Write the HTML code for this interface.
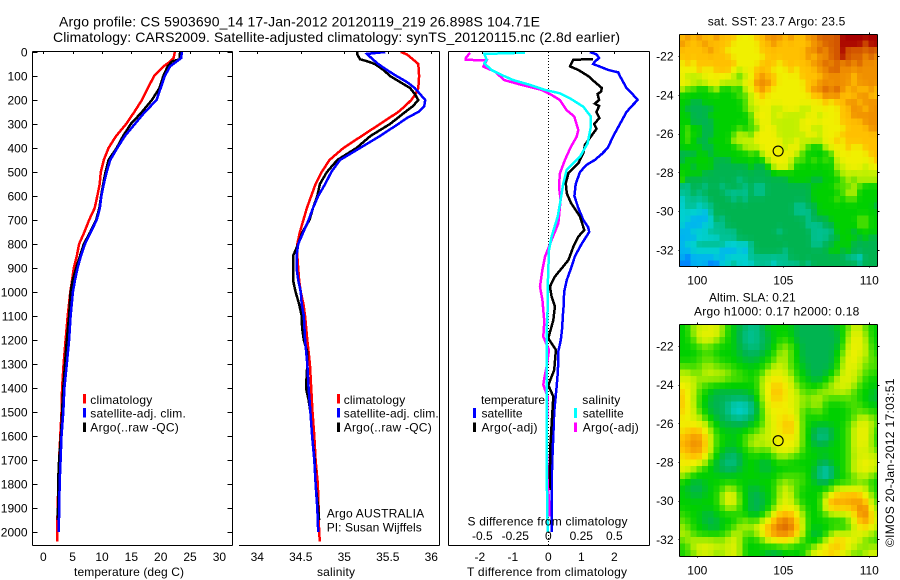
<!DOCTYPE html>
<html lang="en">
<head>
<meta charset="utf-8">
<title>Argo profile chart</title>
<style>
html,body{margin:0;padding:0;background:#fff;}
svg{display:block;}
text{font-family:"Liberation Sans",sans-serif;font-size:12px;fill:#000;}
.t14{font-size:14px;}
.frame{stroke:#000;stroke-width:1;fill:none;shape-rendering:crispEdges;}
.prof{fill:none;stroke-width:2.5;stroke-linejoin:miter;shape-rendering:crispEdges;}
</style>
</head>
<body>
<svg id="chart" xmlns="http://www.w3.org/2000/svg" width="900" height="580" viewBox="0 0 900 580">
  <rect x="0" y="0" width="900" height="580" fill="#fff"/>
  <text class="t14" x="59" y="26.5" textLength="481" lengthAdjust="spacing">Argo profile: CS 5903690_14 17-Jan-2012 20120119_219 26.898S 104.71E</text>
  <text class="t14" x="53" y="42" textLength="567" lengthAdjust="spacing">Climatology: CARS2009. Satellite-adjusted climatology: synTS_20120115.nc (2.8d earlier)</text>

  <g id="map-layer"></g>
  <g id="series-layer"></g>
  <g id="axis-layer"></g>

  <text x="74" y="576" textLength="110" lengthAdjust="spacing">temperature (deg C)</text>
  <text x="317" y="576" textLength="38" lengthAdjust="spacing">salinity</text>
  <text x="467" y="576" textLength="160" lengthAdjust="spacing">T difference from climatology</text>
  <text x="467.5" y="525.7" textLength="160" lengthAdjust="spacing">S difference from climatology</text>

  <g>
    <rect x="83" y="394" width="3" height="9.5" fill="#f00"/>
    <rect x="83" y="408" width="3" height="9.5" fill="#00f"/>
    <rect x="83" y="422.5" width="3" height="9.5" fill="#000"/>
    <text x="90.3" y="404" textLength="62" lengthAdjust="spacing">climatology</text>
    <text x="90.3" y="417.5" textLength="95.5" lengthAdjust="spacing">satellite-adj. clim.</text>
    <text x="90.3" y="431.5" textLength="88.5" lengthAdjust="spacing">Argo(..raw -QC)</text>
  </g>
  <g>
    <rect x="337" y="394" width="3" height="9.5" fill="#f00"/>
    <rect x="337" y="408" width="3" height="9.5" fill="#00f"/>
    <rect x="337" y="422.5" width="3" height="9.5" fill="#000"/>
    <text x="343.7" y="404" textLength="61.5" lengthAdjust="spacing">climatology</text>
    <text x="343.7" y="417.5" textLength="95" lengthAdjust="spacing">satellite-adj. clim.</text>
    <text x="343.7" y="431.5" textLength="88" lengthAdjust="spacing">Argo(..raw -QC)</text>
    <text x="326.7" y="517.3" textLength="97.5" lengthAdjust="spacing">Argo AUSTRALIA</text>
    <text x="326.7" y="531.7" textLength="95" lengthAdjust="spacing">PI: Susan Wijffels</text>
  </g>
  <g>
    <text x="481" y="404" textLength="64" lengthAdjust="spacing">temperature</text>
    <rect x="473" y="408" width="3" height="10" fill="#00f"/>
    <rect x="473" y="422.5" width="3" height="9.5" fill="#000"/>
    <text x="481.5" y="417.5" textLength="41" lengthAdjust="spacing">satellite</text>
    <text x="481.5" y="431.5" textLength="56" lengthAdjust="spacing">Argo(-adj)</text>
    <text x="582.3" y="404" textLength="38" lengthAdjust="spacing">salinity</text>
    <rect x="574" y="408" width="3" height="10" fill="#0ff"/>
    <rect x="574" y="422.5" width="3" height="9.5" fill="#f0f"/>
    <text x="582.7" y="417.5" textLength="41" lengthAdjust="spacing">satellite</text>
    <text x="582.7" y="431.5" textLength="56" lengthAdjust="spacing">Argo(-adj)</text>
  </g>

  <text x="707.7" y="25.3" textLength="137.6" lengthAdjust="spacing">sat. SST: 23.7 Argo: 23.5</text>
  <text x="709" y="301.7" textLength="86.7" lengthAdjust="spacing">Altim. SLA: 0.21</text>
  <text x="694" y="315.7" textLength="165.3" lengthAdjust="spacing">Argo h1000: 0.17 h2000: 0.18</text>
  <text transform="translate(894 547) rotate(-90)" x="0" y="0" textLength="168.5" lengthAdjust="spacing">©IMOS 20-Jan-2012 17:03:51</text>
</svg>

<script>
// ---- axis ticks ----
const depthTicks = [0,100,200,300,400,500,600,700,800,900,1000,1100,1200,1300,1400,1500,1600,1700,1800,1900,2000];
const tempTicks = [0,5,10,15,20,25,30];
const salTicks = [34,34.5,35,35.5,36];
const diffTTicks = [-2,-1,0,1,2];
const diffSTicks = [-0.5,-0.25,0,0.25,0.5];
const lonTicks = [100,105,110];
const latTicks = [22,24,26,28,30,32];

// ---- temperature panel ----
const tempClimDepth = [0,25,40,60,100,150,200,250,300,350,400,450,500,550,600,650,700,750,800,850,900,950,1000,1100,1200,1300,1400,1500,1600,1700,1800,1900,2000,2040];
const tempClimValues = [22.4,22.2,21.6,20.5,18.9,17.8,16.8,15.5,14.1,12.4,11.1,10.3,9.8,9.6,9.2,8.75,7.8,7.0,6.1,5.7,5.2,4.9,4.6,4.15,3.8,3.45,3.2,3.1,2.9,2.7,2.55,2.45,2.35,2.35];
const tempSatDepth = [0,25,40,60,100,150,200,250,300,350,400,450,500,550,600,650,700,750,800,850,900,950,1000,1100,1200,1300,1400,1500,1600,1700,1800,1900,2000];
const tempSatValues = [23.6,23.5,22.7,21.6,20.7,20,19.3,17.3,15.6,13.9,12.6,11.4,10.8,10.3,9.9,9.65,9.1,8.1,7.1,6.4,5.85,5.4,5.05,4.65,4.4,4.0,3.6,3.4,3.1,2.95,2.78,2.72,2.6];
const tempArgoDepth = [0,30,40,60,100,150,200,250,300,350,400,450,500,550,600,650,700,750,800,850,900,950,1000,1100,1200,1300,1400,1500,1600,1700,1800,1900,1950];
const tempArgoValues = [23.3,23.2,21.9,21.2,20.45,19.8,18.5,16.8,14.9,13.6,12.5,11.1,10.6,10.2,9.85,9.55,9.0,8,6.9,6.25,5.6,5,4.65,4.4,4,3.7,3.4,3.2,3,2.7,2.5,2.5,2.45];

// ---- salinity panel ----
const salClimDepth = [0,10,25,50,100,150,175,200,225,250,300,350,400,450,500,550,600,650,700,750,800,850,900,950,1000,1050,1100,1200,1300,1400,1500,1600,1700,1800,1900,2000,2040];
const salClimValues = [35.65,35.72,35.77,35.85,35.86,35.85,35.82,35.77,35.7,35.62,35.41,35.2,34.99,34.83,34.74,34.67,34.62,34.57,34.53,34.49,34.46,34.46,34.47,34.48,34.5,34.53,34.55,34.575,34.605,34.62,34.635,34.655,34.67,34.695,34.705,34.71,34.72];
const salSatDepth = [0,8,25,50,75,100,125,150,175,200,225,250,275,300,350,400,450,500,550,600,650,700,750,800,850,900,950,1000,1050,1100,1200,1300,1400,1500,1600,1700,1800,1900,2000];
const salSatValues = [35.47,35.26,35.31,35.39,35.49,35.6,35.72,35.81,35.87,35.93,35.92,35.85,35.72,35.62,35.41,35.18,34.95,34.85,34.78,34.7,34.64,34.59,34.53,34.47,34.45,34.45,34.47,34.5,34.51,34.535,34.55,34.575,34.59,34.61,34.63,34.655,34.67,34.69,34.7];
const salArgoDepth = [0,10,30,40,50,75,100,125,150,175,200,225,250,300,350,400,450,500,550,600,650,700,750,800,850,900,950,1000,1050,1100,1150,1200,1250,1300,1400,1450,1500,1600,1700,1800,1900,1950];
const salArgoValues = [35.15,35.15,35.18,35.275,35.35,35.45,35.525,35.64,35.755,35.81,35.85,35.79,35.7,35.525,35.3,35.14,34.92,34.8,34.72,34.69,34.64,34.6,34.52,34.47,34.41,34.41,34.41,34.44,34.48,34.51,34.515,34.535,34.575,34.575,34.56,34.59,34.61,34.63,34.66,34.67,34.7,34.71];

// ---- difference panel ----
const diffTSatDepth = [0,10,25,40,50,75,85,100,125,150,175,200,225,250,300,350,400,425,450,470,500,550,600,650,700,730,750,800,850,900,950,1000,1050,1100,1150,1200,1250,1300,1350,1400,1500,1600,1700,1800,1900,2000];
const diffTSatValues = [1.26,1.46,1.54,1.41,1.36,1.82,2.12,2.17,2.27,2.37,2.55,2.71,2.53,2.37,2.17,1.97,1.8,1.62,1.41,1.16,0.96,0.83,0.79,0.91,1.06,1.21,1.24,1.01,0.81,0.69,0.56,0.48,0.47,0.44,0.42,0.38,0.3,0.3,0.28,0.25,0.18,0.15,0.12,0.1,0.1,0.1];
const diffTArgoDepth = [30,32,50,60,75,100,125,150,165,175,200,215,225,250,275,300,320,387,422,464,505,547,589,630,686,742,769,811,867,894,936,978,1019,1061,1117,1193,1241,1325,1353,1388,1436,1506,1644,1825];
const diffTArgoValues = [1.36,0.76,0.69,0.66,0.91,1.21,1.41,1.62,1.6,1.49,1.54,1.41,1.54,1.46,1.55,1.39,1.46,1.11,1.06,0.91,0.61,0.53,0.56,0.69,0.96,1.09,0.91,0.76,0.61,0.45,0.2,0.05,0.1,0.2,0.15,0,0.23,0.18,0.1,0,0.15,0.12,0.06,0.04];
const diffSSatDepth = [3,8,33,47,75,96,117,137,158,172,193,228,269,311,381,436,492,547,617,686,769,825,908,992,1075,1172,1311,1450,1728,1978,1999];
const diffSSatValues = [-0.177,-0.485,-0.467,-0.485,-0.43,-0.354,-0.265,-0.139,-0.025,0.088,0.164,0.265,0.323,0.323,0.298,0.24,0.139,0.114,0.093,0.071,0.025,0.005,0,-0.005,-0.005,-0.013,-0.013,-0.013,-0.013,-0.005,-0.005];
const diffSArgoDepth = [3,26,33,34,61,82,117,137,158,179,200,242,269,325,353,394,450,506,561,617,714,783,853,908,978,1033,1075,1123,1186,1242,1311,1359,1387,1436,1589,1797,1867,1936];
const diffSArgoValues = [-0.593,-0.626,-0.626,-0.467,-0.492,-0.404,-0.333,-0.202,-0.05,0.025,0.088,0.139,0.197,0.227,0.215,0.172,0.126,0.088,0.081,0.093,0.076,0.025,-0.025,-0.045,-0.063,-0.045,-0.038,-0.03,-0.038,0.005,-0.013,-0.03,-0.038,-0.005,-0.013,-0.005,0.005,0.008];

// ---- float position ----
const argoLon = [104.7];
const argoLat = [26.9];

// ---- map colour levels (0 coldest/lowest .. 12 warmest/highest) ----
const levelColors = ["#0080ff","#00b4f0","#00d0d0","#00c090","#00b450","#00d000","#50e000","#c0f000","#f0f000","#ffc000","#f09000","#d86000","#a80000"];

// ---- SST map, rows north to south ----
const sstGrid = [
[9,10,9,10,9,9,10,9,9,9,8,8,8,9,9,10,10,10,9,10,9,9,10,10,11,11,11,11,12,12,12,12,12,12,12],
[10,9,9,9,10,9,9,9,9,8,8,8,8,8,9,9,10,9,9,9,9,9,9,10,10,11,11,11,12,12,12,12,11,12,12],
[9,9,9,9,9,10,9,9,8,8,8,8,8,8,9,9,9,9,9,9,9,9,10,10,11,10,11,11,12,11,11,11,11,11,11],
[9,9,9,9,9,9,9,9,9,8,8,8,8,8,8,9,9,9,9,9,9,9,10,9,10,10,11,11,12,11,11,11,10,11,10],
[8,9,8,9,9,9,9,9,9,9,8,8,8,8,9,9,9,8,9,9,9,9,9,10,10,11,10,11,10,11,10,11,10,10,10],
[8,8,8,9,8,8,9,9,9,8,7,8,8,9,9,9,8,8,8,9,8,9,9,9,10,10,11,11,10,10,10,10,10,10,10],
[8,7,7,7,8,8,8,8,8,7,6,7,8,9,10,9,9,8,8,8,8,9,9,9,9,10,10,10,10,10,9,10,10,10,10],
[8,8,7,7,7,8,8,7,7,7,7,8,8,10,10,10,9,8,8,8,8,8,9,9,10,10,10,10,10,10,9,10,10,10,10],
[7,6,6,5,5,6,7,5,5,6,5,7,8,9,10,9,8,8,8,8,8,8,9,10,10,11,10,11,10,9,10,9,9,10,9],
[5,5,5,5,5,5,5,5,5,5,6,6,7,8,9,8,8,8,8,8,8,8,8,9,9,10,10,10,9,9,9,10,10,9,9],
[5,5,4,4,5,5,5,5,5,5,5,6,7,8,8,8,8,8,8,8,8,8,8,8,8,9,8,9,9,10,10,9,10,10,10],
[5,4,4,4,4,4,5,5,5,5,5,6,7,7,8,8,7,7,8,8,8,7,7,8,8,8,8,8,9,9,10,10,9,10,10],
[5,5,4,4,4,5,5,5,5,5,5,5,6,8,8,8,7,8,7,7,7,7,8,8,7,8,8,8,9,9,10,10,10,10,10],
[5,5,4,4,4,4,5,5,5,5,5,5,6,7,8,8,7,7,7,7,7,8,8,8,8,8,8,8,9,9,9,9,10,10,10],
[5,6,5,5,4,4,5,5,5,5,6,5,6,6,8,8,8,7,7,7,7,8,8,7,7,8,8,8,8,9,9,9,9,10,10],
[5,6,5,5,4,4,5,5,5,6,7,7,6,8,8,8,8,7,7,7,7,7,8,8,7,8,8,8,9,9,9,9,9,9,9],
[5,6,5,4,4,5,5,5,5,7,7,7,7,8,8,8,8,8,7,7,8,7,7,7,7,8,8,9,8,9,9,9,9,9,9],
[5,5,5,5,4,4,5,5,5,5,6,7,7,7,8,8,8,8,7,8,8,7,6,5,5,7,8,8,8,9,8,8,9,9,9],
[4,4,4,5,5,4,5,5,5,5,5,5,6,5,7,8,8,8,8,8,7,6,5,5,5,5,6,8,8,8,8,8,8,9,9],
[4,5,5,5,5,5,4,4,4,5,5,5,5,5,5,7,8,8,8,7,6,6,5,6,5,6,5,7,8,8,8,8,8,8,9],
[5,5,4,5,5,5,4,4,4,4,4,4,5,4,4,5,7,8,8,7,5,5,5,5,5,5,5,7,7,8,8,8,7,8,8],
[5,5,5,5,4,4,4,4,4,4,4,4,4,4,4,4,5,5,5,5,5,5,5,5,5,5,5,6,7,7,7,7,7,7,7],
[6,4,4,4,4,4,4,4,4,4,3,4,4,4,4,4,4,4,4,5,5,5,5,4,4,5,5,5,6,7,6,7,7,7,7],
[3,3,4,4,3,4,4,3,4,4,4,3,4,3,3,4,4,4,4,4,4,4,4,5,5,5,5,6,6,6,7,6,5,5,5],
[3,3,4,3,4,4,4,4,3,3,3,3,4,3,3,4,4,4,4,4,4,4,4,5,5,5,5,5,6,7,7,5,5,5,5],
[2,3,3,3,3,4,4,4,4,3,4,3,4,4,4,4,4,4,4,4,4,4,4,5,5,5,5,6,5,6,6,5,5,5,5],
[2,3,3,2,3,3,4,4,4,4,4,4,4,4,4,4,4,4,4,4,3,3,4,4,5,5,5,5,5,5,5,5,5,5,4],
[2,2,2,2,1,3,4,4,4,4,4,4,4,4,4,4,4,4,4,4,3,3,3,4,5,5,5,5,5,5,5,5,5,5,5],
[2,2,1,1,1,2,4,3,4,4,4,4,4,4,4,4,4,4,4,4,4,4,3,4,4,4,5,5,5,5,5,6,6,5,5],
[2,1,1,1,2,2,3,3,4,4,4,4,4,4,4,4,4,4,4,4,4,4,3,3,3,4,4,5,5,5,5,6,6,5,5],
[1,1,2,2,2,3,3,3,3,3,4,4,4,4,4,4,4,3,4,4,4,4,4,3,3,3,3,5,5,5,4,5,5,5,5],
[1,1,1,2,2,2,2,3,3,3,4,4,4,4,4,4,4,4,4,4,4,4,4,3,3,3,4,4,5,5,5,4,5,4,4],
[1,2,2,3,3,3,3,3,2,2,2,2,3,4,4,4,4,4,4,4,4,4,4,3,3,4,4,5,5,5,4,4,4,4,4],
[1,1,2,2,2,2,2,1,1,1,2,1,3,4,4,4,4,4,3,4,4,4,4,4,4,4,5,5,4,5,4,4,4,4,4],
[1,0,1,1,1,1,2,1,2,2,2,2,3,3,3,3,3,3,3,4,4,4,4,4,4,4,4,4,4,3,3,2,4,4,4],
[0,0,1,1,1,0,0,2,2,3,2,2,2,3,3,3,2,3,3,3,3,4,3,4,4,4,4,4,4,4,4,3,4,4,4]
];

// ---- SLA map, rows north to south ----
const slaGrid = [
[5,5,7,7,7,8,7,7,5,5,4,4,3,3,4,5,5,5,5,5,4,4,4,4,4,4,4,5,5,6,7,7,6,5,5],
[5,5,7,8,8,8,8,7,5,5,4,3,3,3,4,4,5,5,5,5,4,4,4,4,4,4,4,4,5,7,8,8,7,5,5],
[5,5,6,7,8,7,7,6,5,5,4,3,3,3,4,4,5,5,6,5,4,4,4,4,4,4,4,4,5,7,8,8,7,5,5],
[5,5,5,6,6,6,5,5,5,5,4,4,3,3,4,4,5,6,7,6,5,4,4,4,4,4,4,4,6,7,8,8,7,6,5],
[5,5,5,5,6,6,5,5,5,5,4,4,4,4,4,5,5,7,7,6,5,4,4,4,4,4,4,5,6,8,8,8,7,6,5],
[5,5,5,6,6,6,6,5,5,5,5,4,4,4,5,5,6,7,7,6,5,4,4,4,4,4,4,5,7,8,8,7,7,6,6],
[6,6,6,6,7,7,6,6,6,5,5,5,5,5,5,6,7,7,7,6,5,5,4,4,4,4,4,5,7,8,8,7,6,6,6],
[7,7,6,6,7,7,7,7,7,6,6,5,5,5,6,7,8,8,7,7,5,5,4,4,4,4,5,6,7,8,7,7,6,6,5],
[7,8,7,7,7,7,7,7,6,6,6,6,5,6,7,8,8,8,8,7,6,5,5,4,4,5,6,7,8,8,7,7,5,5,5],
[8,8,7,6,6,5,5,5,5,5,5,5,5,5,7,8,9,9,8,8,6,6,5,5,5,6,7,7,8,7,7,6,5,5,5],
[9,8,7,6,5,5,4,4,4,4,4,4,5,5,7,8,9,9,8,8,7,6,6,6,7,7,7,7,7,7,6,5,5,5,4],
[9,8,7,6,5,4,4,4,4,4,4,4,4,5,7,8,9,9,8,8,7,7,6,7,7,6,6,6,6,6,6,5,5,4,4],
[9,8,7,5,5,4,4,4,3,2,2,2,3,4,6,8,8,8,8,8,7,7,6,7,7,5,5,5,5,6,6,6,5,5,5],
[9,8,8,6,5,4,4,4,3,2,2,2,3,4,6,8,8,8,8,8,7,6,5,6,7,5,5,5,5,5,6,6,6,5,5],
[8,8,7,7,6,5,4,4,4,3,3,3,4,4,6,7,8,8,9,8,8,6,5,5,5,5,5,5,5,5,6,7,7,7,6],
[8,8,8,8,7,6,5,4,4,4,4,4,5,5,6,7,8,8,9,9,8,6,5,5,5,5,5,5,5,6,7,8,8,7,6],
[8,9,9,9,8,7,5,5,5,5,5,5,5,6,7,7,8,8,9,9,8,6,5,4,3,3,4,5,5,6,7,8,8,7,5],
[9,9,10,10,9,7,6,5,5,4,5,6,7,7,7,7,8,8,8,8,8,6,5,4,3,3,4,5,5,6,7,8,8,7,5],
[9,10,10,10,9,7,6,5,5,5,5,6,7,7,7,7,8,8,8,8,8,6,5,4,4,4,5,5,5,6,7,8,8,7,5],
[9,9,10,10,9,7,5,5,4,4,5,5,6,7,6,6,7,8,8,8,7,6,5,5,5,5,5,5,5,6,7,8,7,7,6],
[8,9,9,9,8,7,5,4,4,3,4,5,5,5,5,5,6,7,7,6,6,5,5,5,5,4,5,5,5,6,7,7,8,7,7],
[8,8,8,8,7,5,4,4,3,3,4,5,5,5,4,4,5,5,5,5,5,5,5,5,4,4,5,5,5,6,7,8,8,8,7],
[8,8,7,6,5,5,4,4,3,4,4,5,5,5,4,4,5,5,5,5,5,5,5,5,3,2,3,5,5,6,7,8,8,8,7],
[7,6,5,5,5,5,5,5,5,5,5,5,5,5,5,5,5,5,6,6,6,6,5,4,3,2,3,5,5,6,7,7,7,7,5],
[5,5,4,4,5,5,5,5,5,5,5,5,5,5,5,5,5,7,7,6,6,6,5,5,4,4,5,5,5,5,5,6,6,5,5],
[5,4,4,4,4,5,5,6,7,7,5,5,4,4,5,5,5,7,7,7,6,5,5,5,5,5,6,7,8,8,8,8,7,6,5],
[5,5,4,4,5,5,5,7,8,8,6,5,4,4,4,5,5,7,8,7,6,5,5,5,5,7,8,9,9,9,9,9,8,7,5],
[5,5,5,5,5,5,5,7,8,8,6,5,4,4,4,5,5,7,8,7,6,5,5,5,5,8,10,10,9,10,10,10,9,7,6],
[5,5,5,5,5,5,5,6,7,7,6,5,4,4,4,5,6,8,8,8,8,6,5,5,5,8,9,9,9,9,9,10,11,8,6],
[6,5,5,5,4,4,5,5,5,5,5,5,4,4,5,6,8,9,9,9,8,7,5,5,5,6,7,7,7,7,8,10,11,8,7],
[6,6,5,5,4,4,4,5,5,5,6,7,6,6,7,8,9,10,11,10,9,7,5,5,5,5,5,5,5,7,8,9,10,9,7],
[7,6,5,5,5,4,4,5,5,6,7,7,7,7,9,9,10,11,11,11,9,8,5,5,5,5,5,6,5,5,7,8,9,8,7],
[7,7,6,5,5,5,5,5,6,7,7,6,6,7,8,9,10,10,10,10,9,7,5,4,4,5,7,7,7,7,8,8,7,7,6],
[6,7,7,7,7,7,7,7,7,8,7,5,5,5,6,8,8,9,9,8,7,6,5,4,5,7,8,9,9,8,8,7,6,6,5],
[5,6,7,8,8,8,7,7,7,8,7,5,5,5,5,5,5,5,6,5,5,5,5,7,8,8,9,9,9,8,7,7,6,7,7],
[5,6,6,7,7,7,6,7,7,8,7,5,5,5,5,4,4,4,5,5,5,5,7,8,8,8,9,8,7,7,6,6,7,8,7]
];

const NS = 'http://www.w3.org/2000/svg';
const seriesLayer = document.getElementById('series-layer');
const axisLayer = document.getElementById('axis-layer');
const mapLayer = document.getElementById('map-layer');

// axis functions
function yDepth(d){ return 52 + 0.24 * d; }
function xTemp(t){ return 43.3 + 5.87 * t; }
function xSal(s){ return 257.3 + 87 * (s - 34); }
function xDiffT(t){ return 548.3 + 33 * t; }
function xDiffS(s){ return 548.3 + 132 * s; }
function xLon(l){ return 697.3 + 17.2 * (l - 100); }
function ySstLat(l){ return 56 + 19.4 * (l - 22); }
function ySlaLat(l){ return 346 + 19.33 * (l - 22); }

function drawLine(x1, y1, x2, y2, parent){
  const el = document.createElementNS(NS, 'line');
  
  
  el.setAttribute('x1', x1);
  el.setAttribute('y1', y1);
  el.setAttribute('x2', x2);
  el.setAttribute('y2', y2);
  el.setAttribute('class', 'frame');
  parent.appendChild(el);
}

function drawTickLabel(str, x, y, anchor){
  const el = document.createElementNS(NS, 'text');
  
  
  el.setAttribute('x', x);
  el.setAttribute('y', y);
  el.setAttribute('text-anchor', anchor);
  el.textContent = str;
  axisLayer.appendChild(el);
}

function drawProfile(seriesName, depths, values, xFn, color){
  const pts = depths.map(function(d, i){
    return xFn(values[i]).toFixed(1) + ',' + yDepth(d).toFixed(1);
  }).join(' ');
  const el = document.createElementNS(NS, 'polyline');
  
  
  el.setAttribute('points', pts);
  el.setAttribute('class', 'prof');
  el.setAttribute('stroke', color);
  seriesLayer.appendChild(el);
}

// colour for a fractional level, blending between neighbouring palette entries
function levelColor(v){
  const m = Math.max(0, Math.min(levelColors.length - 1, v));
  const i = Math.min(levelColors.length - 2, Math.floor(m));
  const f = m - i;
  const a = levelColors[i], b = levelColors[i + 1];
  const parts = [1, 3, 5].map(function(p){
    const ca = parseInt(a.substr(p, 2), 16);
    const cb = parseInt(b.substr(p, 2), 16);
    return Math.round(ca + (cb - ca) * f);
  });
  return 'rgb(' + parts.join(',') + ')';
}

// neighbourhood-weighted level: edge and corner weights relative to the centre
function cellLevel(grid, r, c, centre, edge, corner){
  let sum = 0, total = 0;
  for (let dr = -1; dr <= 1; dr++) {
    for (let dc = -1; dc <= 1; dc++) {
      const row = grid[r + dr];
      if (!row || row[c + dc] === undefined) continue;
      const kind = Math.abs(dr) + Math.abs(dc);
      const w = kind === 0 ? centre : (kind === 1 ? edge : corner);
      sum += w * row[c + dc];
      total += w;
    }
  }
  return sum / total;
}

function drawHeatmap(grid, yFn, topLat, clipBottom, gridName, centre, edge, corner){
  const g = document.createElementNS(NS, 'g');
  
  
  const left = xLon(98.95);
  const cw = xLon(99.2833) - left;
  const rh = yFn(topLat + 1 / 3) - yFn(topLat);
  grid.forEach(function(row, r){
    row.forEach(function(v, c){
      const el = document.createElementNS(NS, 'rect');
      
      
      const x0 = left + c * cw;
      const x1 = Math.min(x0 + cw, 876.5);
      const y0 = yFn(topLat) + r * rh;
      const y1 = Math.min(y0 + rh, clipBottom);
      el.setAttribute('x', x0.toFixed(2));
      el.setAttribute('y', y0.toFixed(2));
      el.setAttribute('width', (x1 - x0 + 0.3).toFixed(2));
      el.setAttribute('height', (y1 - y0 + 0.3).toFixed(2));
      el.setAttribute('fill', levelColor(cellLevel(grid, r, c, centre, edge, corner)));
      el.setAttribute('shape-rendering', 'crispEdges');
      g.appendChild(el);
    });
  });
  mapLayer.appendChild(g);
}

function drawMapFrame(top, bottom, yFn, labelBase){
  const L = 679.5, R = 877.5;
  drawLine(L, top, R, top, axisLayer);
  drawLine(L, bottom, R, bottom, axisLayer);
  drawLine(L, top, L, bottom, axisLayer);
  drawLine(R, top, R, bottom, axisLayer);
  lonTicks.forEach(function(l){
    const x = Math.round(xLon(l)) + 0.5;
    drawLine(x, top - 2, x, top, axisLayer);
    drawLine(x, bottom, x, bottom + 1, axisLayer);
    drawTickLabel(String(l), xLon(l), labelBase, 'middle');
  });
  latTicks.forEach(function(l){
    const y = Math.round(yFn(l)) + 0.5;
    drawLine(R, y, R + 2, y, axisLayer);
    drawLine(L - 1, y, L, y, axisLayer);
    drawTickLabel('-' + l, 673.5, yFn(l) + 4.5, 'end');
  });
  const el = document.createElementNS(NS, 'circle');
  
  
  el.setAttribute('cx', xLon(argoLon[0]));
  el.setAttribute('cy', yFn(argoLat[0]));
  el.setAttribute('r', 5);
  el.setAttribute('fill', 'none');
  el.setAttribute('stroke', '#000');
  el.setAttribute('stroke-width', 1.1);
  axisLayer.appendChild(el);
}

// maps
drawHeatmap(sstGrid, ySstLat, 20.88, 266.5, 'sst-heatmap', 6, 1, 0);
drawHeatmap(slaGrid, ySlaLat, 20.88, 556.5, 'sla-heatmap', 4, 2, 1);
drawMapFrame(34.5, 266.5, ySstLat, 284.7);
drawMapFrame(324.5, 556.5, ySlaLat, 574.3);

// zero line in difference panel
const zeroLine = document.createElementNS(NS, 'line');


zeroLine.setAttribute('x1', 548.5);
zeroLine.setAttribute('y1', 52);
zeroLine.setAttribute('x2', 548.5);
zeroLine.setAttribute('y2', 545);
zeroLine.setAttribute('stroke', '#000');
zeroLine.setAttribute('stroke-width', 1);
zeroLine.setAttribute('stroke-dasharray', '1 2');
zeroLine.setAttribute('shape-rendering', 'crispEdges');
seriesLayer.appendChild(zeroLine);

// profile lines
drawProfile('temperature-climatology-line', tempClimDepth, tempClimValues, xTemp, '#f00');
drawProfile('temperature-argo-line', tempArgoDepth, tempArgoValues, xTemp, '#000');
drawProfile('temperature-satellite-line', tempSatDepth, tempSatValues, xTemp, '#00f');
drawProfile('salinity-climatology-line', salClimDepth, salClimValues, xSal, '#f00');
drawProfile('salinity-argo-line', salArgoDepth, salArgoValues, xSal, '#000');
drawProfile('salinity-satellite-line', salSatDepth, salSatValues, xSal, '#00f');
drawProfile('t-diff-satellite-line', diffTSatDepth, diffTSatValues, xDiffT, '#00f');
drawProfile('t-diff-argo-line', diffTArgoDepth, diffTArgoValues, xDiffT, '#000');
drawProfile('s-diff-argo-line', diffSArgoDepth, diffSArgoValues, xDiffS, '#f0f');
drawProfile('s-diff-satellite-line', diffSSatDepth, diffSSatValues, xDiffS, '#0ff');

// profile panel frames
drawLine(32.5, 51.5, 232.5, 51.5, axisLayer);
drawLine(32.5, 545.5, 232.5, 545.5, axisLayer);
drawLine(32.5, 51.5, 32.5, 545.5, axisLayer);
drawLine(232.5, 51.5, 232.5, 545.5, axisLayer);
drawLine(239, 51.5, 439.5, 51.5, axisLayer);
drawLine(239, 545.5, 439.5, 545.5, axisLayer);
drawLine(439.5, 51.5, 439.5, 545.5, axisLayer);
drawLine(448.5, 51.5, 649.5, 51.5, axisLayer);
drawLine(448.5, 545.5, 649.5, 545.5, axisLayer);
drawLine(448.5, 51.5, 448.5, 545.5, axisLayer);
drawLine(649.5, 51.5, 649.5, 545.5, axisLayer);

// depth axis
depthTicks.forEach(function(d){
  const y = Math.round(yDepth(d)) + 0.5;
  drawLine(32.5, y, 37.5, y, axisLayer);
  drawLine(227.5, y, 232.5, y, axisLayer);
  drawTickLabel(String(d), 27.5, yDepth(d) + 4.5, 'end');
});

// x axes
tempTicks.forEach(function(t){
  const x = Math.round(xTemp(t)) + 0.5;
  drawLine(x, 51.5, x, 54, axisLayer);
  drawTickLabel(String(t), xTemp(t), 561, 'middle');
});
salTicks.forEach(function(s){
  const x = Math.round(xSal(s)) + 0.5;
  drawLine(x, 51.5, x, 54, axisLayer);
  drawTickLabel(String(s), xSal(s), 561, 'middle');
});
diffTTicks.forEach(function(t){
  if (t !== 0) {
    const x = Math.round(xDiffT(t)) + 0.5;
    drawLine(x, 51.5, x, 54, axisLayer);
  }
  drawTickLabel(String(t), xDiffT(t) - (t < 0 ? 2.5 : 0), 561, 'middle');
});
diffSTicks.forEach(function(s){
  drawTickLabel(String(s), xDiffS(s), 540, 'middle');
});
</script>
</body>
</html>
